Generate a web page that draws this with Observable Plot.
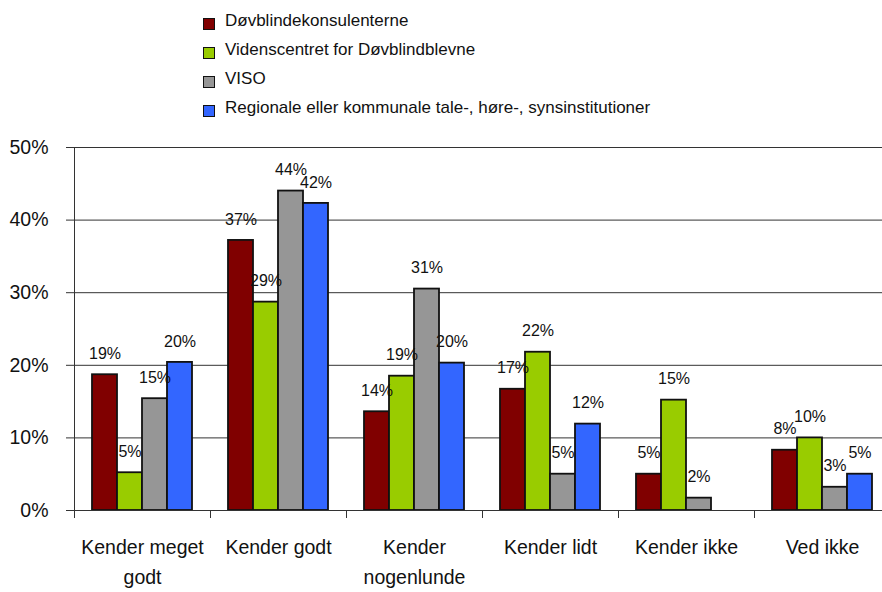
<!DOCTYPE html>
<html>
<head>
<meta charset="utf-8">
<script src="https://cdn.jsdelivr.net/npm/d3@7"></script>
<script src="https://cdn.jsdelivr.net/npm/@observablehq/plot@0.6"></script>
<style>
  html, body { margin: 0; padding: 0; background: #fff; width: 882px; height: 592px; overflow: hidden; }
  #legend { position: relative; height: 133px; box-sizing: border-box; padding: 6px 0 0 203px;
            font-family: "Liberation Sans", Arial, sans-serif; font-size: 17px; color: #111; }
  .item { height: 29px; display: flex; align-items: center; white-space: nowrap; }
  .sw { width: 10px; height: 10px; border: 1.5px solid #111; margin-right: 10px; position: relative; top: 3px; flex: none; }
  #chart { width: 892px; }
  #chart svg { display: block; max-width: none !important; width: 892px !important; height: 459px !important; overflow: visible; }
</style>
</head>
<body>
<div id="legend"></div>
<div id="chart"></div>
<script>
const categories = ["Kender meget godt", "Kender godt", "Kender nogenlunde", "Kender lidt", "Kender ikke", "Ved ikke"];
const categoryLines = ["Kender meget\ngodt", "Kender godt", "Kender\nnogenlunde", "Kender lidt", "Kender ikke", "Ved ikke"];
const series = ["Døvblindekonsulenterne", "Videnscentret for Døvblindblevne", "VISO", "Regionale eller kommunale tale-, høre-, synsinstitutioner"];
const colors = ["#800000", "#99cc00", "#969696", "#3366ff"];

// percent values per series, in category order
const dovblindekonsulenterne = [18.7, 37.2, 13.6, 16.7, 5.0, 8.3];
const videnscentret = [5.2, 28.7, 18.5, 21.8, 15.2, 10.0];
const viso = [15.4, 44.0, 30.5, 5.0, 1.7, 3.2];
const regionale = [20.4, 42.3, 20.3, 11.9, 0, 5.0];
const yTicks = [0, 10, 20, 30, 40, 50];

const seriesValues = [dovblindekonsulenterne, videnscentret, viso, regionale];
const data = categories.flatMap((c, i) => series.map((s, j) => ({category: c, series: s, value: seriesValues[j][i]})));

// legend
const legend = document.getElementById("legend");
series.forEach((s, j) => {
  const item = document.createElement("div");
  item.className = "item";
  const sw = document.createElement("span");
  sw.className = "sw";
  sw.style.background = colors[j];
  const t = document.createElement("span");
  t.textContent = s;
  item.appendChild(sw);
  item.appendChild(t);
  legend.appendChild(item);
});

const font = '"Liberation Sans", Arial, sans-serif';
const lineColor = "#333";

const chart = Plot.plot({
  width: 892,
  height: 459,
  marginTop: 14,
  marginBottom: 82,
  marginLeft: 71,
  marginRight: 0,
  style: {fontFamily: font, fontSize: "19px", color: "#111", background: "white"},
  fx: {domain: categories, padding: 0, label: null},
  x: {domain: series, paddingInner: 0, paddingOuter: 0.72, axis: null},
  y: {domain: [0, 50], label: null},
  color: {domain: series, range: colors},
  marks: [
    Plot.gridY(yTicks.filter(d => d > 0), {stroke: lineColor, strokeOpacity: 1, strokeWidth: 1}),
    Plot.axisY(yTicks, {tickSize: 8, tickPadding: 18, tickFormat: d => d + "%", fontSize: 19.5, stroke: lineColor, label: null}),
    Plot.axisFx({anchor: "bottom", tickSize: 0, tickPadding: 22, fontSize: 19.5, lineHeight: 1.54,
                 tickFormat: c => categoryLines[categories.indexOf(c)], label: null}),
    Plot.barY(data.filter(d => d.value > 0), {fx: "category", x: "series", y: "value", fill: "series", stroke: "#111", strokeWidth: 1.8}),
    Plot.ruleY([0], {stroke: lineColor, strokeWidth: 1}),
    Plot.text(data.filter(d => d.value > 0), {fx: "category", x: "series", y: "value",
      text: d => Math.round(d.value) + "%", dy: -21, fontSize: 16, fill: "#111"})
  ]
});

document.getElementById("chart").appendChild(chart);

// axis lines and category boundary ticks via the plot's own scales
const fxS = chart.scale("fx");
const yS = chart.scale("y");
const svg = d3.select(chart);
const g = svg.append("g").attr("stroke", lineColor).attr("stroke-width", 1);
const xStart = fxS.apply(categories[0]);
g.append("line").attr("x1", xStart + 0.5).attr("x2", xStart + 0.5).attr("y1", yS.apply(50)).attr("y2", yS.apply(0) + 8);
const bounds = categories.map(c => fxS.apply(c));
bounds.push(fxS.apply(categories[categories.length - 1]) + fxS.bandwidth);
bounds.forEach(b => {
  g.append("line").attr("x1", b + 0.5).attr("x2", b + 0.5).attr("y1", yS.apply(0)).attr("y2", yS.apply(0) + 8);
});
</script>
</body>
</html>
